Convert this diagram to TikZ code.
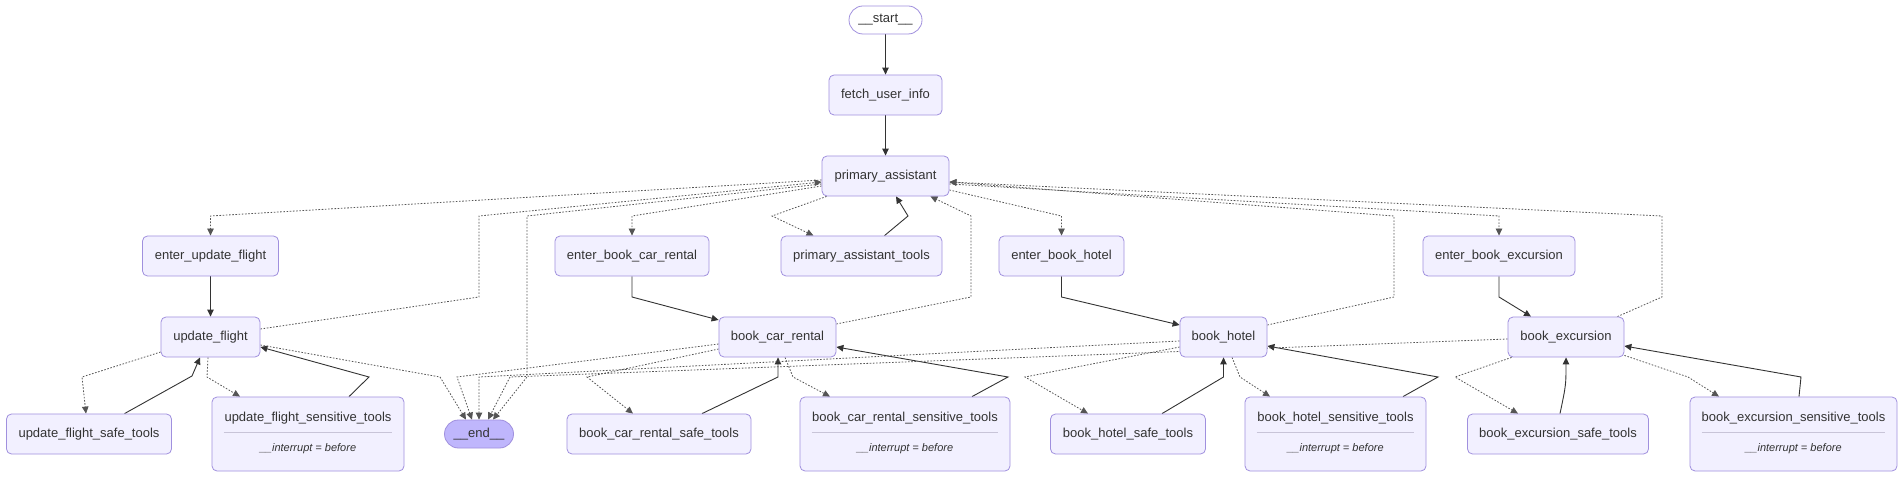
\documentclass[tikz,border=0pt]{standalone}
\usepackage{fontspec}
\setmainfont{Liberation Sans}
\usetikzlibrary{arrows.meta,calc,backgrounds}
\definecolor{nodefill}{HTML}{F2F0FF}
\definecolor{nodedraw}{HTML}{A090DE}
\definecolor{endfill}{HTML}{BFB6FC}
\definecolor{edgecol}{HTML}{333333}
\definecolor{dotcol}{HTML}{555555}
\definecolor{txt}{HTML}{333333}
\definecolor{sepcol}{HTML}{C8C4D8}
\begin{document}
\begin{tikzpicture}[x=1pt,y=-1pt,
  nbox/.style={draw=nodedraw, fill=nodefill, line width=0.8pt, rounded corners=5pt,
    minimum height=40pt, inner sep=0pt, text=txt, font=\fontsize{13}{15}\selectfont},
  stad/.style={nbox, rounded corners=14pt, minimum height=28pt},
  sensbox/.style={nbox, minimum height=74pt},
  stitle/.style={inner sep=0pt, text=txt, font=\fontsize{13}{15}\selectfont},
  sital/.style={inner sep=0pt, text=txt, font=\fontsize{11}{13}\selectfont\itshape},
  sepline/.style={draw=sepcol, line width=0.8pt},
  soledge/.style={draw=edgecol, line width=0.9pt, -{Triangle[length=7pt,width=6.5pt]}},
  dotedge/.style={soledge, draw=dotcol, line width=0.8pt, dash pattern=on 1.6pt off 1.6pt},
]
\useasboundingbox (0,0) rectangle (1904,478);
% nodes
\node[stad, fill=white, minimum width=73] (start) at (885.5,20) {\_\_start\_\_};
\node[nbox, minimum width=113] (fetch) at (885.5,95) {fetch\_user\_info};
\node[nbox, minimum width=127] (pa) at (885.5,176) {primary\_assistant};

\node[nbox, minimum width=136] (euf) at (210.5,256) {enter\_update\_flight};
\node[nbox, minimum width=154] (ebcr) at (632,256) {enter\_book\_car\_rental};
\node[nbox, minimum width=161] (pat) at (861.5,256) {primary\_assistant\_tools};
\node[nbox, minimum width=125] (ebh) at (1061.5,256) {enter\_book\_hotel};
\node[nbox, minimum width=152] (ebe) at (1499,256) {enter\_book\_excursion};

\node[nbox, minimum width=99] (uf) at (210.5,337) {update\_flight};
\node[nbox, minimum width=117] (bcr) at (777.5,337) {book\_car\_rental};
\node[nbox, minimum width=87] (bh) at (1223.5,337) {book\_hotel};
\node[nbox, minimum width=116] (be) at (1566,337) {book\_excursion};

\node[nbox, minimum width=165] (ufs) at (89,434) {update\_flight\_safe\_tools};
\node[sensbox, minimum width=192] (ufx) at (308,434) {};
\node[stad, fill=endfill, minimum width=69] (end) at (479,434) {\_\_end\_\_};
\node[nbox, minimum width=184] (bcrs) at (659,434) {book\_car\_rental\_safe\_tools};
\node[sensbox, minimum width=210] (bcrx) at (905,434) {};
\node[nbox, minimum width=155] (bhs) at (1128,434) {book\_hotel\_safe\_tools};
\node[sensbox, minimum width=181] (bhx) at (1335.5,434) {};
\node[nbox, minimum width=181] (bes) at (1558,434) {book\_excursion\_safe\_tools};
\node[sensbox, minimum width=207] (bex) at (1793.5,434) {};

% sensitive node contents
\foreach \n/\t in {ufx/update\_flight\_sensitive\_tools, bcrx/book\_car\_rental\_sensitive\_tools,
                   bhx/book\_hotel\_sensitive\_tools, bex/book\_excursion\_sensitive\_tools}{
  \node[stitle] (\n-t) at ($(\n.center)+(0,-16)$) {\t};
  \draw[sepline] ($(\n.west)+(12,-2)$) -- ($(\n.east)+(-12,-2)$);
  \node[sital] (\n-i) at ($(\n.center)+(0,15)$) {\_\_interrupt = before};
}

\begin{scope}[on background layer]
\fill[white] (0,0) rectangle (1904,478);
% top
\draw[soledge] (start) -- (fetch);
\draw[soledge] (fetch) -- (pa);
\draw[dotedge] ($(pa.west)+(0,4)$) -- (210.5,216) -- (euf.north);
\draw[dotedge] ($(pa.west)+(0,10)$) -- (632,216) -- (ebcr.north);
\draw[dotedge] ($(pa.south west)+(5,0)$) -- (772,216) -- ($(pat.north)+(-48,0)$);
\draw[soledge] ($(pat.north)+(23,0)$) -- (908,216) -- ($(pa.south)+(10.5,0)$);
\draw[dotedge] ($(pa.east)+(0,14)$) -- (1061.5,216) -- (ebh.north);
\draw[dotedge] ($(pa.east)+(0,8)$) -- (1499,216) -- (ebe.north);
\draw[dotedge] ($(pa.west)+(0,8)$) -- (527,216) -- (527,377) -- ($(end.north)+(14,0)$);
% returns to primary
\draw[dotedge] ($(uf.east)+(0,-8)$) -- (479,297) -- (479,216) -- ($(pa.west)+(0,6)$);
\draw[dotedge] ($(bcr.east)+(0,-13)$) -- (971,297) -- (971,216) -- ($(pa.south east)+(-19,0)$);
\draw[dotedge] ($(bh.east)+(0,-12)$) -- (1394,297) -- (1394,216) -- ($(pa.east)+(0,6)$);
\draw[dotedge] ($(be.north east)+(-7,0)$) -- (1662,297) -- (1662,216) -- ($(pa.east)+(0,6)$);
% enter -> skill
\draw[soledge] (euf) -- (uf);
\draw[soledge] (ebcr.south) -- (632,297) -- ($(bcr.west)+(0,-17)$);
\draw[soledge] (ebh.south) -- (1061.5,297) -- ($(bh.west)+(0,-12)$);
\draw[soledge] (ebe.south) -- (1499,297) -- ($(be.north)+(-35,0)$);
% update_flight cluster
\draw[dotedge] ($(uf.west)+(0,15)$) -- (82,377) -- ($(ufs.north)+(-3,0)$);
\draw[soledge] ($(ufs.north)+(35.5,0)$) -- (192,376) -- ($(uf.south)+(-10.5,0)$);
\draw[dotedge] ($(uf.south)+(-2.5,0)$) -- (207,377) -- ($(ufx.north)+(-68,0)$);
\draw[soledge] ($(ufx.north)+(41,0)$) -- (369,377) -- ($(uf.east)+(0,10)$);
\draw[dotedge] ($(uf.east)+(0,8)$) -- (440,377) -- ($(end.north)+(-13,0)$);
% book_car_rental cluster
\draw[dotedge] ($(bcr.west)+(0,7)$) -- (457,377) -- ($(end.north)+(-7,0)$);
\draw[dotedge] ($(bcr.west)+(0,12)$) -- (587,377) -- ($(bcrs.north)+(-26,0)$);
\draw[soledge] ($(bcrs.north)+(43,0)$) -- (778,377) -- ($(bcr.south)+(0.5,0)$);
\draw[dotedge] ($(bcr.south)+(7.5,0)$) -- (793,377) -- ($(bcrx.north)+(-75,0)$);
\draw[soledge] ($(bcrx.north)+(67,0)$) -- (1008,377) -- ($(bcr.east)+(0,10)$);
% book_hotel cluster
\draw[dotedge] ($(bh.west)+(0,4)$) -- (479,377) -- (end.north);
\draw[dotedge] ($(bh.west)+(0,10)$) -- (1025,377) -- ($(bhs.north)+(-40,0)$);
\draw[soledge] ($(bhs.north)+(34,0)$) -- (1223.5,377) -- (bh.south);
\draw[dotedge] ($(bh.south)+(8.5,0)$) -- (1240,377) -- ($(bhx.north)+(-65.5,0)$);
\draw[soledge] ($(bhx.north)+(67.5,0)$) -- (1438,377) -- ($(bh.east)+(0,9)$);
% book_excursion cluster
\draw[dotedge] ($(be.west)+(0,2)$) -- (510,377) -- ($(end.north)+(9,0)$);
\draw[dotedge] ($(be.south west)+(4,0)$) -- (1455,377) -- ($(bes.north)+(-40,0)$);
\draw[soledge] ($(bes.north)+(2,0)$) .. controls (1566,385) .. ($(be.south)$);
\draw[dotedge] ($(be.south east)+(0,-2)$) -- (1688,377) -- ($(bex.north)+(-74.5,0)$);
\draw[soledge] ($(bex.north)+(5.5,0)$) -- (1801,377) -- ($(be.east)+(0,9)$);
\end{scope}
\end{tikzpicture}
\end{document}
